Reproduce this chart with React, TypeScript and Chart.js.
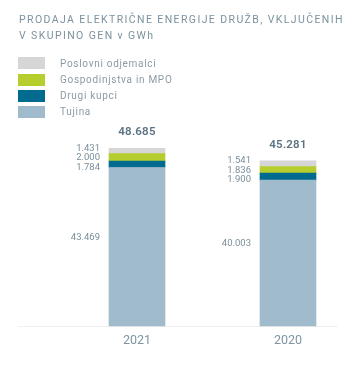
import React, { useEffect, useRef } from "react";
import { Chart, registerables } from "chart.js";

Chart.register(...registerables);

const years = ["2021", "2020"];
const tujina = [43469, 40003];
const drugiKupci = [1784, 1900];
const gospodinjstva = [2000, 1836];
const poslovni = [1431, 1541];
const totals = [48685, 45281];
const seriesNames = ["Tujina", "Drugi kupci", "Gospodinjstva in MPO", "Poslovni odjemalci"];
const seriesColors = ["#9fbbcc", "#006b8f", "#b6cd2d", "#d6d6d6"];
const titleLines = ["PRODAJA ELEKTRIČNE ENERGIJE DRUŽB, VKLJUČENIH", "V SKUPINO GEN v GWh"];

const FONT = "Roboto, 'DejaVu Sans', sans-serif";

const fmt = (v: number) => String(v).replace(/\B(?=(\d{3})+(?!\d))/g, ".");

const labelPlugin = {
  id: "valueLabels",
  beforeDatasetsDraw(chart: any) {
    const ctx = chart.ctx;
    const y0 = chart.scales.y.getPixelForValue(0);
    ctx.save();
    ctx.strokeStyle = "#efefef";
    ctx.lineWidth = 1;
    ctx.beginPath();
    ctx.moveTo(10, Math.round(y0) + 0.5);
    ctx.lineTo(330, Math.round(y0) + 0.5);
    ctx.stroke();
    ctx.restore();
  },
  afterDatasetsDraw(chart: any) {
    const ctx = chart.ctx;
    ctx.save();
    const n = chart.data.labels.length;
    for (let i = 0; i < n; i++) {
      const base = chart.getDatasetMeta(0).data[i];
      const topEl = chart.getDatasetMeta(3).data[i];
      const left = base.x - base.width / 2;
      ctx.textAlign = "right";
      ctx.textBaseline = "middle";
      ctx.fillStyle = "#7a8e9a";
      ctx.font = `9.5px ${FONT}`;
      (ctx as any).letterSpacing = "0px";
      ctx.fillText(fmt(chart.data.datasets[0].data[i]), left - 9, (base.y + base.base) / 2 - 9.4);
      const mid = (topEl.y + base.y) / 2;
      const small = [3, 2, 1];
      small.forEach((ds, k) => {
        ctx.fillText(fmt(chart.data.datasets[ds].data[i]), left - 9, mid + (k - 1) * 9.4);
      });
      ctx.textAlign = "center";
      ctx.fillStyle = "#5b7282";
      ctx.font = `600 11.5px ${FONT}`;
      (ctx as any).letterSpacing = "0.2px";
      ctx.fillText(fmt(totals[i]), base.x, topEl.y - 16);
    }
    ctx.restore();
  },
};

export default function App() {
  const ref = useRef<HTMLCanvasElement | null>(null);
  useEffect(() => {
    if (!ref.current) return;
    const values = [tujina, drugiKupci, gospodinjstva, poslovni];
    const chart = new Chart(ref.current, {
      type: "bar",
      data: {
        labels: years,
        datasets: values.map((d, k) => ({
          label: seriesNames[k],
          data: d,
          backgroundColor: seriesColors[k],
          borderWidth: 0,
          barThickness: 56,
          clip: false as any,
        })),
      },
      options: {
        animation: false,
        responsive: false,
        devicePixelRatio: 1,
        layout: { padding: { top: 132, left: 129, right: 64, bottom: 2 } },
        plugins: { legend: { display: false }, tooltip: { enabled: false }, title: { display: false } },
        scales: {
          x: {
            stacked: true,
            offset: false,
            grid: { display: false, drawTicks: false },
            border: { display: false },
            ticks: {
              padding: 7,
              color: "#7e95a3",
              maxRotation: 0,
              minRotation: 0,
              font: { family: FONT, size: 12.5 },
            },
            afterFit: (s: any) => {
              s.height = 30;
            },
          },
          y: { stacked: true, display: false, min: 0, max: 51000 },
        },
      },
      plugins: [labelPlugin],
    });
    return () => chart.destroy();
  }, []);

  const legendOrder = [3, 2, 1, 0];
  return (
    <div style={{ position: "relative", width: 344, height: 350, fontFamily: FONT }}>
      <canvas ref={ref} width={344} height={350} style={{ position: "absolute", left: 0, top: 0 }} />
      <div
        style={{
          position: "absolute",
          left: 11,
          top: 4,
          fontSize: 10.5,
          lineHeight: "15.5px",
          letterSpacing: "1.4px",
          color: "#7b929e",
          whiteSpace: "nowrap",
        }}
      >
        {titleLines.map((t) => (
          <div key={t}>{t}</div>
        ))}
      </div>
      {legendOrder.map((k, r) => (
        <div key={k} style={{ position: "absolute", left: 10, top: 49.3 + r * 16.2, height: 12, display: "flex", alignItems: "center" }}>
          <div style={{ width: 27, height: 12, background: seriesColors[k] }} />
          <div style={{ marginLeft: 15, fontSize: 10, letterSpacing: "0.7px", color: "#8b9ba5", whiteSpace: "nowrap" }}>
            {seriesNames[k]}
          </div>
        </div>
      ))}
    </div>
  );
}
